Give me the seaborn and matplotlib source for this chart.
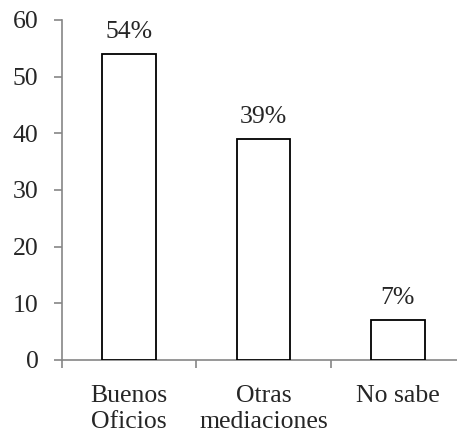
import matplotlib
matplotlib.use("Agg")
import matplotlib.pyplot as plt
import seaborn as sns
import pandas as pd

categories = ["Buenos\nOficios", "Otras\nmediaciones", "No sabe"]
values = [54, 39, 7]
value_labels = ["54%", "39%", "7%"]
y_ticks = [0, 10, 20, 30, 40, 50, 60]

sns.set_style("white")
plt.rcParams["font.family"] = ["Liberation Serif", "DejaVu Serif"]

FS = 18.5

df = pd.DataFrame({"categoria": categories, "valor": values})

fig = plt.figure(figsize=(4.57, 4.37), dpi=100)
ax = fig.add_axes([62 / 457, 77 / 437, 403 / 457, 340 / 437])

sns.barplot(data=df, x="categoria", y="valor", ax=ax, width=0.4,
            color="white", edgecolor="black", linewidth=1.3, saturation=1)

for i, (v, lab) in enumerate(zip(values, value_labels)):
    ax.annotate(lab, (i, v), xytext=(0, 8), textcoords="offset points",
                ha="center", va="bottom", fontsize=FS)

ax.set_ylim(0, 60)
ax.set_xlim(-0.5, 2.5)
ax.set_yticks(y_ticks)
ax.set_yticklabels([str(t) for t in y_ticks], fontsize=FS)

ax.set_xticks([-0.5, 0.5, 1.5, 2.5])
ax.set_xticklabels([])
ax.set_xticks([0, 1, 2], minor=True)
ax.set_xticklabels(categories, minor=True, fontsize=FS, linespacing=1.25)
ax.tick_params(axis="x", which="minor", length=0, pad=18)
ax.tick_params(axis="x", which="major", direction="out", length=6,
               width=1.2, color="#868686", bottom=True)
ax.tick_params(axis="y", direction="out", length=6, width=1.2,
               color="#868686", left=True, pad=11)

ax.set_xlabel("")
ax.set_ylabel("")
for side in ["top", "right"]:
    ax.spines[side].set_visible(False)
for side in ["left", "bottom"]:
    ax.spines[side].set_color("#868686")
    ax.spines[side].set_linewidth(1.2)
ax.spines["bottom"].set_zorder(0)

fig.savefig("out.png", dpi=100)
